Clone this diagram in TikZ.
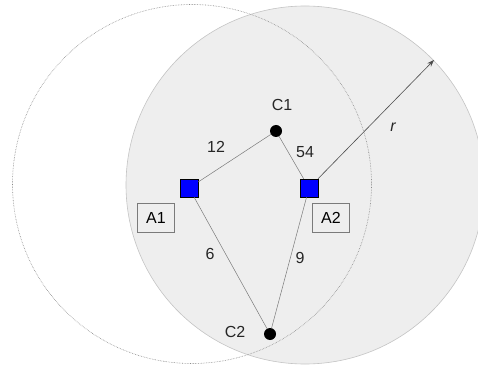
\documentclass[tikz,border=0pt]{standalone}
\usepackage{fontspec}
\setmainfont{Liberation Sans}
\usetikzlibrary{arrows.meta}
\definecolor{bggray}{HTML}{EEEEEE}
\definecolor{rimgray}{HTML}{C4C4C4}
\definecolor{dotgray}{HTML}{8A8A8A}
\definecolor{linegray}{HTML}{7A7A7A}
\tikzset{
  lbl/.style={font=\fontsize{16}{18}\selectfont, inner sep=0pt, text=black!85},
  apbox/.style={draw=black, fill=blue, minimum size=18pt, inner sep=0pt, line width=0.5pt},
  tagbox/.style={draw=linegray, minimum width=37pt, minimum height=29pt, inner sep=0pt, font=\fontsize{16}{18}\selectfont, line width=0.6pt},
  client/.style={circle, fill=black, minimum size=12pt, inner sep=0pt},
  link/.style={draw=linegray, line width=0.5pt}
}
\begin{document}
\begin{tikzpicture}[x=1pt,y=-1pt]
\useasboundingbox (0,0) rectangle (478,371);
\fill[white] (0,0) rectangle (478,371);
% right coverage circle
\filldraw[fill=bggray, draw=rimgray, line width=0.6pt] (305,185) circle (179);
% left coverage circle outline
\draw[dotgray, line width=0.6pt, densely dotted] (192,184) circle (179.5);
% nodes
\node[apbox] (A1) at (189,188) {};
\node[apbox] (A2) at (309,188) {};
\node[client] (C1) at (276,131) {};
\node[client] (C2) at (270,334) {};
\node[tagbox] (T1) at (156,217.5) {A1};
\node[tagbox] (T2) at (331,217.5) {A2};
\coordinate (R) at (434,60);
% links
\draw[link] (A1) -- (C1);
\draw[link] (A2) -- (C1);
\draw[link] (A1) -- (C2);
\draw[link] (A2) -- (C2);
\draw[black!70, line width=0.6pt, -{Stealth[length=7pt,width=5pt]}] (A2) -- (R);
% labels
\node[lbl] (L12) at (216,147) {12};
\node[lbl] (L54) at (305,152) {54};
\node[lbl] (L6) at (210,254) {6};
\node[lbl] (L9) at (300,258) {9};
\node[lbl] (LC1) at (282,105) {C1};
\node[lbl] (LC2) at (235,332) {C2};
\node[lbl] (Lr) at (393,127) {\itshape r};
\end{tikzpicture}
\end{document}
